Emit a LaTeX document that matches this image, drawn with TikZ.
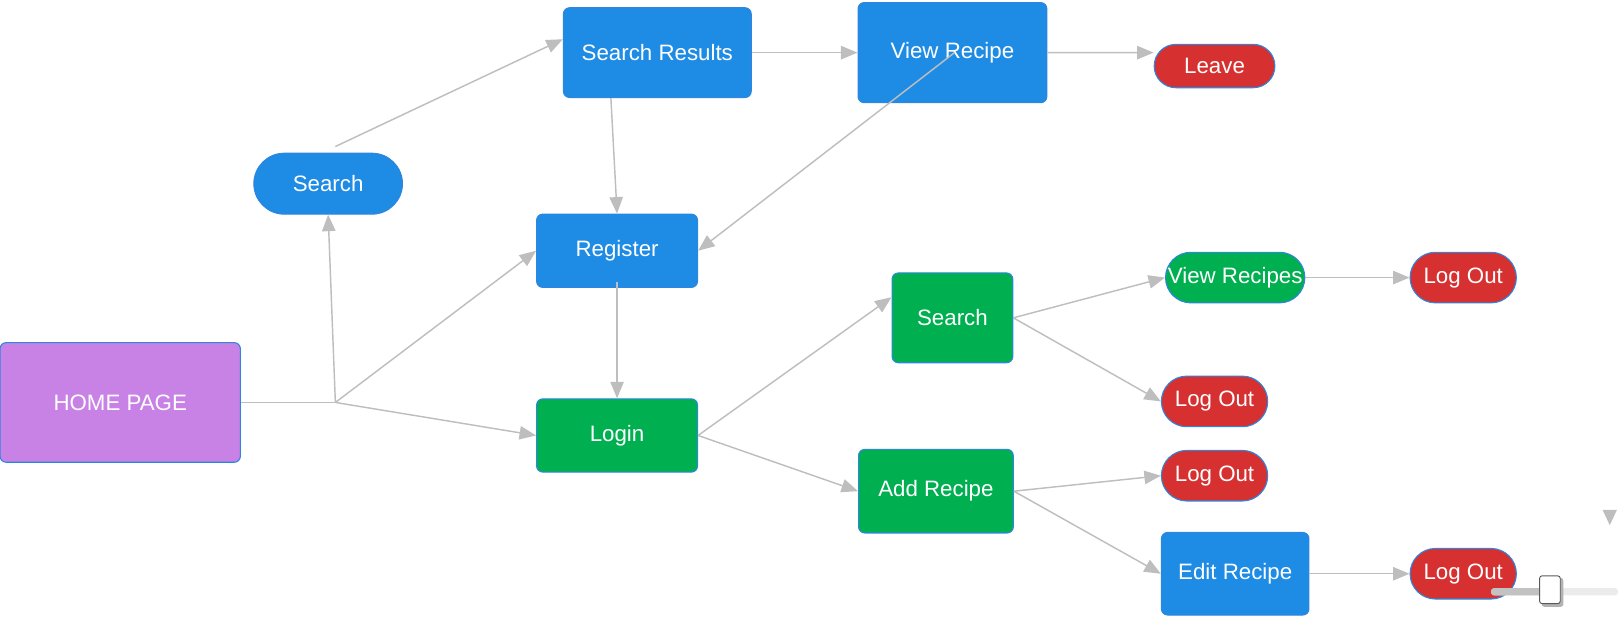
\documentclass[tikz,border=0pt]{standalone}
\usepackage{fontspec}
\setmainfont{Liberation Sans}
\usetikzlibrary{arrows.meta}
\definecolor{boxblue}{RGB}{30,139,229}
\definecolor{boxgreen}{RGB}{0,176,80}
\definecolor{boxred}{RGB}{214,48,49}
\definecolor{boxpurple}{RGB}{200,130,230}
\definecolor{edgeblue}{RGB}{46,134,222}
\definecolor{linkgray}{RGB}{190,190,190}

\begin{document}
\begin{tikzpicture}[x=0.02cm,y=-0.02cm,>={Triangle[length=0.32cm,width=0.26cm]},
  box/.style={draw=edgeblue,line width=0.6pt,rounded corners=0.12cm,text=white,
    inner sep=0pt,font=\fontsize{12.3}{14}\selectfont},
  pill/.style={box,rounded corners=0.49cm,minimum height=0.98cm},
  link/.style={draw=linkgray,line width=0.8pt}]
\useasboundingbox (0,0) rectangle (1568,603);

% Pages
\node[box,fill=boxpurple,minimum width=4.66cm,minimum height=2.32cm] (home) at (116.5,390) {HOME PAGE};
\node[pill,fill=boxblue,minimum width=2.88cm,minimum height=1.18cm,rounded corners=0.59cm] (search) at (318,178) {Search};
\node[box,fill=boxblue,minimum width=3.64cm,minimum height=1.74cm] (results) at (637,51) {Search Results};
\node[box,fill=boxblue,minimum width=3.66cm,minimum height=1.94cm] (view) at (923,51) {View Recipe};
\node[pill,fill=boxred,minimum width=2.34cm,minimum height=0.84cm,rounded corners=0.42cm] (leave) at (1177,64) {Leave};
\node[box,fill=boxblue,minimum width=3.12cm,minimum height=1.42cm] (register) at (598,243) {Register};
\node[box,fill=boxgreen,minimum width=3.12cm,minimum height=1.42cm] (login) at (598,422) {Login};

% Logged-in pages
\node[box,fill=boxgreen,minimum width=2.34cm,minimum height=1.74cm] (usearch) at (923,308) {Search};
\node[pill,fill=boxgreen,minimum width=2.7cm] (viewall) at (1197,269) {View Recipes};
\node[pill,fill=boxred,minimum width=2.06cm] (outa) at (1418,269) {Log Out};
\node[pill,fill=boxred,minimum width=2.06cm] (outb) at (1177,389) {Log Out};
\node[box,fill=boxgreen,minimum width=3.0cm,minimum height=1.62cm] (add) at (907,476) {Add Recipe};
\node[pill,fill=boxred,minimum width=2.06cm] (outc) at (1177,461) {Log Out};
\node[box,fill=boxblue,minimum width=2.86cm,minimum height=1.6cm] (edit) at (1197,556) {Edit Recipe};
\node[pill,fill=boxred,minimum width=2.06cm] (outd) at (1418,556) {Log Out};

% Links
\coordinate (jct) at (325,390);
\draw[link] (home.east) -- (jct);
\draw[link,->] (jct) -- (search.south);
\draw[link,->] (jct) -- (register.west);
\draw[link,->] (jct) -- (login.west);
\draw[link,->] ([xshift=0.14cm,yshift=0.12cm]search.north) -- ([yshift=0.26cm]results.west);
\draw[link,->] ([xshift=-0.9cm]results.south) -- (register.north);
\draw[link,->] (results.east) -- (view.west);
\draw[link,->] (view.east) -- ([yshift=0.26cm]leave.west);
\draw[link,->] ([xshift=0.04cm]view.center) -- (register.east);
\draw[link,->] ([yshift=0.12cm]register.south) -- (login.north);
\draw[link,->] (login.east) -- ([yshift=0.4cm]usearch.west);
\draw[link,->] (login.east) -- (add.west);
\draw[link,->] (usearch.east) -- (viewall.west);
\draw[link,->] (usearch.east) -- (outb.west);
\draw[link,->] (viewall.east) -- (outa.west);
\draw[link,->] (add.east) -- (outc.west);
\draw[link,->] (add.east) -- (edit.west);
\draw[link,->] (edit.east) -- (outd.west);

% Slider and stray tip
\fill[black!8,rounded corners=0.06cm] (1445,570) rectangle (1568,577);
\fill[black!24,rounded corners=0.06cm] (1445,570) rectangle (1500,577);
\fill[black!30,rounded corners=0.05cm] (1494,560) rectangle (1515,588);
\draw[fill=white,draw=black!65,line width=0.5pt,rounded corners=0.05cm] (1492,558) rectangle (1512,585);
\fill[linkgray] (1553,494) -- (1567,494) -- (1560,509) -- cycle;
\end{tikzpicture}
\end{document}
